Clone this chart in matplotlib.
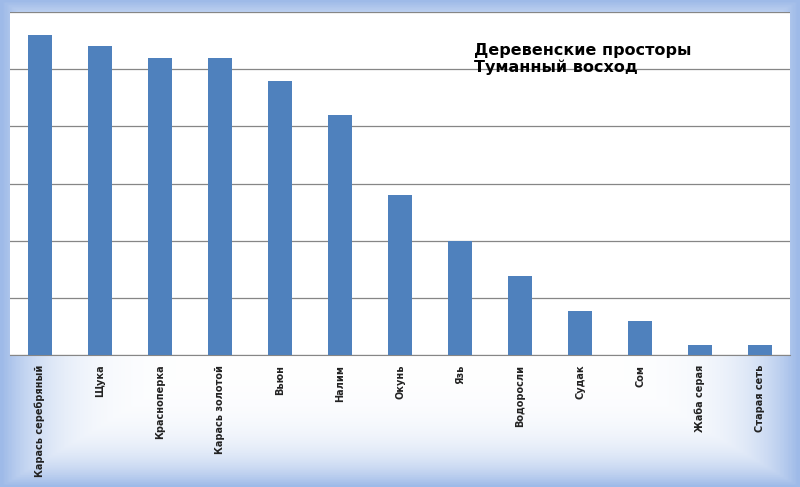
import matplotlib
matplotlib.use("Agg")
import matplotlib.pyplot as plt
import numpy as np

categories = ["Карась серебряный", "Щука", "Красноперка", "Карась золотой", "Вьюн", "Налим",
              "Окунь", "Язь", "Водоросли", "Судак", "Сом", "Жаба серая", "Старая сеть"]
values = [5.6, 5.4, 5.2, 5.2, 4.8, 4.2, 2.8, 2.0, 1.38, 0.77, 0.6, 0.18, 0.18]

fig = plt.figure(figsize=(8, 4.87), dpi=100)
bg = fig.add_axes([0, 0, 1, 1], zorder=-10)
h, w = 200, 200
yy = np.linspace(0, 1, h)[:, None]
xx = np.linspace(0, 1, w)[None, :]
d = np.maximum(np.abs(yy - 0.5) * 2, np.abs(xx - 0.5) * 2) ** 8
c1 = np.array([1, 1, 1]); c2 = np.array([0.62, 0.73, 0.91])
img = c1 + (c2 - c1) * d[..., None]
bg.imshow(img, aspect="auto", extent=[0, 1, 0, 1])
bg.axis("off")

ax = fig.add_axes([10/800, 1 - 355/487, 780/800, 343/487])
ax.set_facecolor("white")
x = np.arange(len(categories))
ax.bar(x, values, width=0.4, color="#4f81bd", zorder=3)
ax.set_xlim(-0.5, len(categories) - 0.5)
ax.set_ylim(0, 6)
ax.set_yticks(np.arange(0, 7, 1))
ax.set_yticklabels([])
ax.tick_params(axis="y", length=0)
ax.grid(axis="y", color="#868686", linewidth=0.9, zorder=0)
ax.set_xticks(x)
ax.set_xticklabels(categories, rotation=90, fontsize=7, fontweight="bold", color="#222222")
ax.tick_params(axis="x", length=0, pad=7)
for s in ["top", "right", "left"]:
    ax.spines[s].set_visible(False)
ax.spines["bottom"].set_color("#868686")
ax.text(0.595, 0.91, "Деревенские просторы\nТуманный восход", transform=ax.transAxes,
        fontsize=11.5, fontweight="bold", va="top", ha="left", linespacing=1.15)
fig.savefig("out.png", dpi=100)
